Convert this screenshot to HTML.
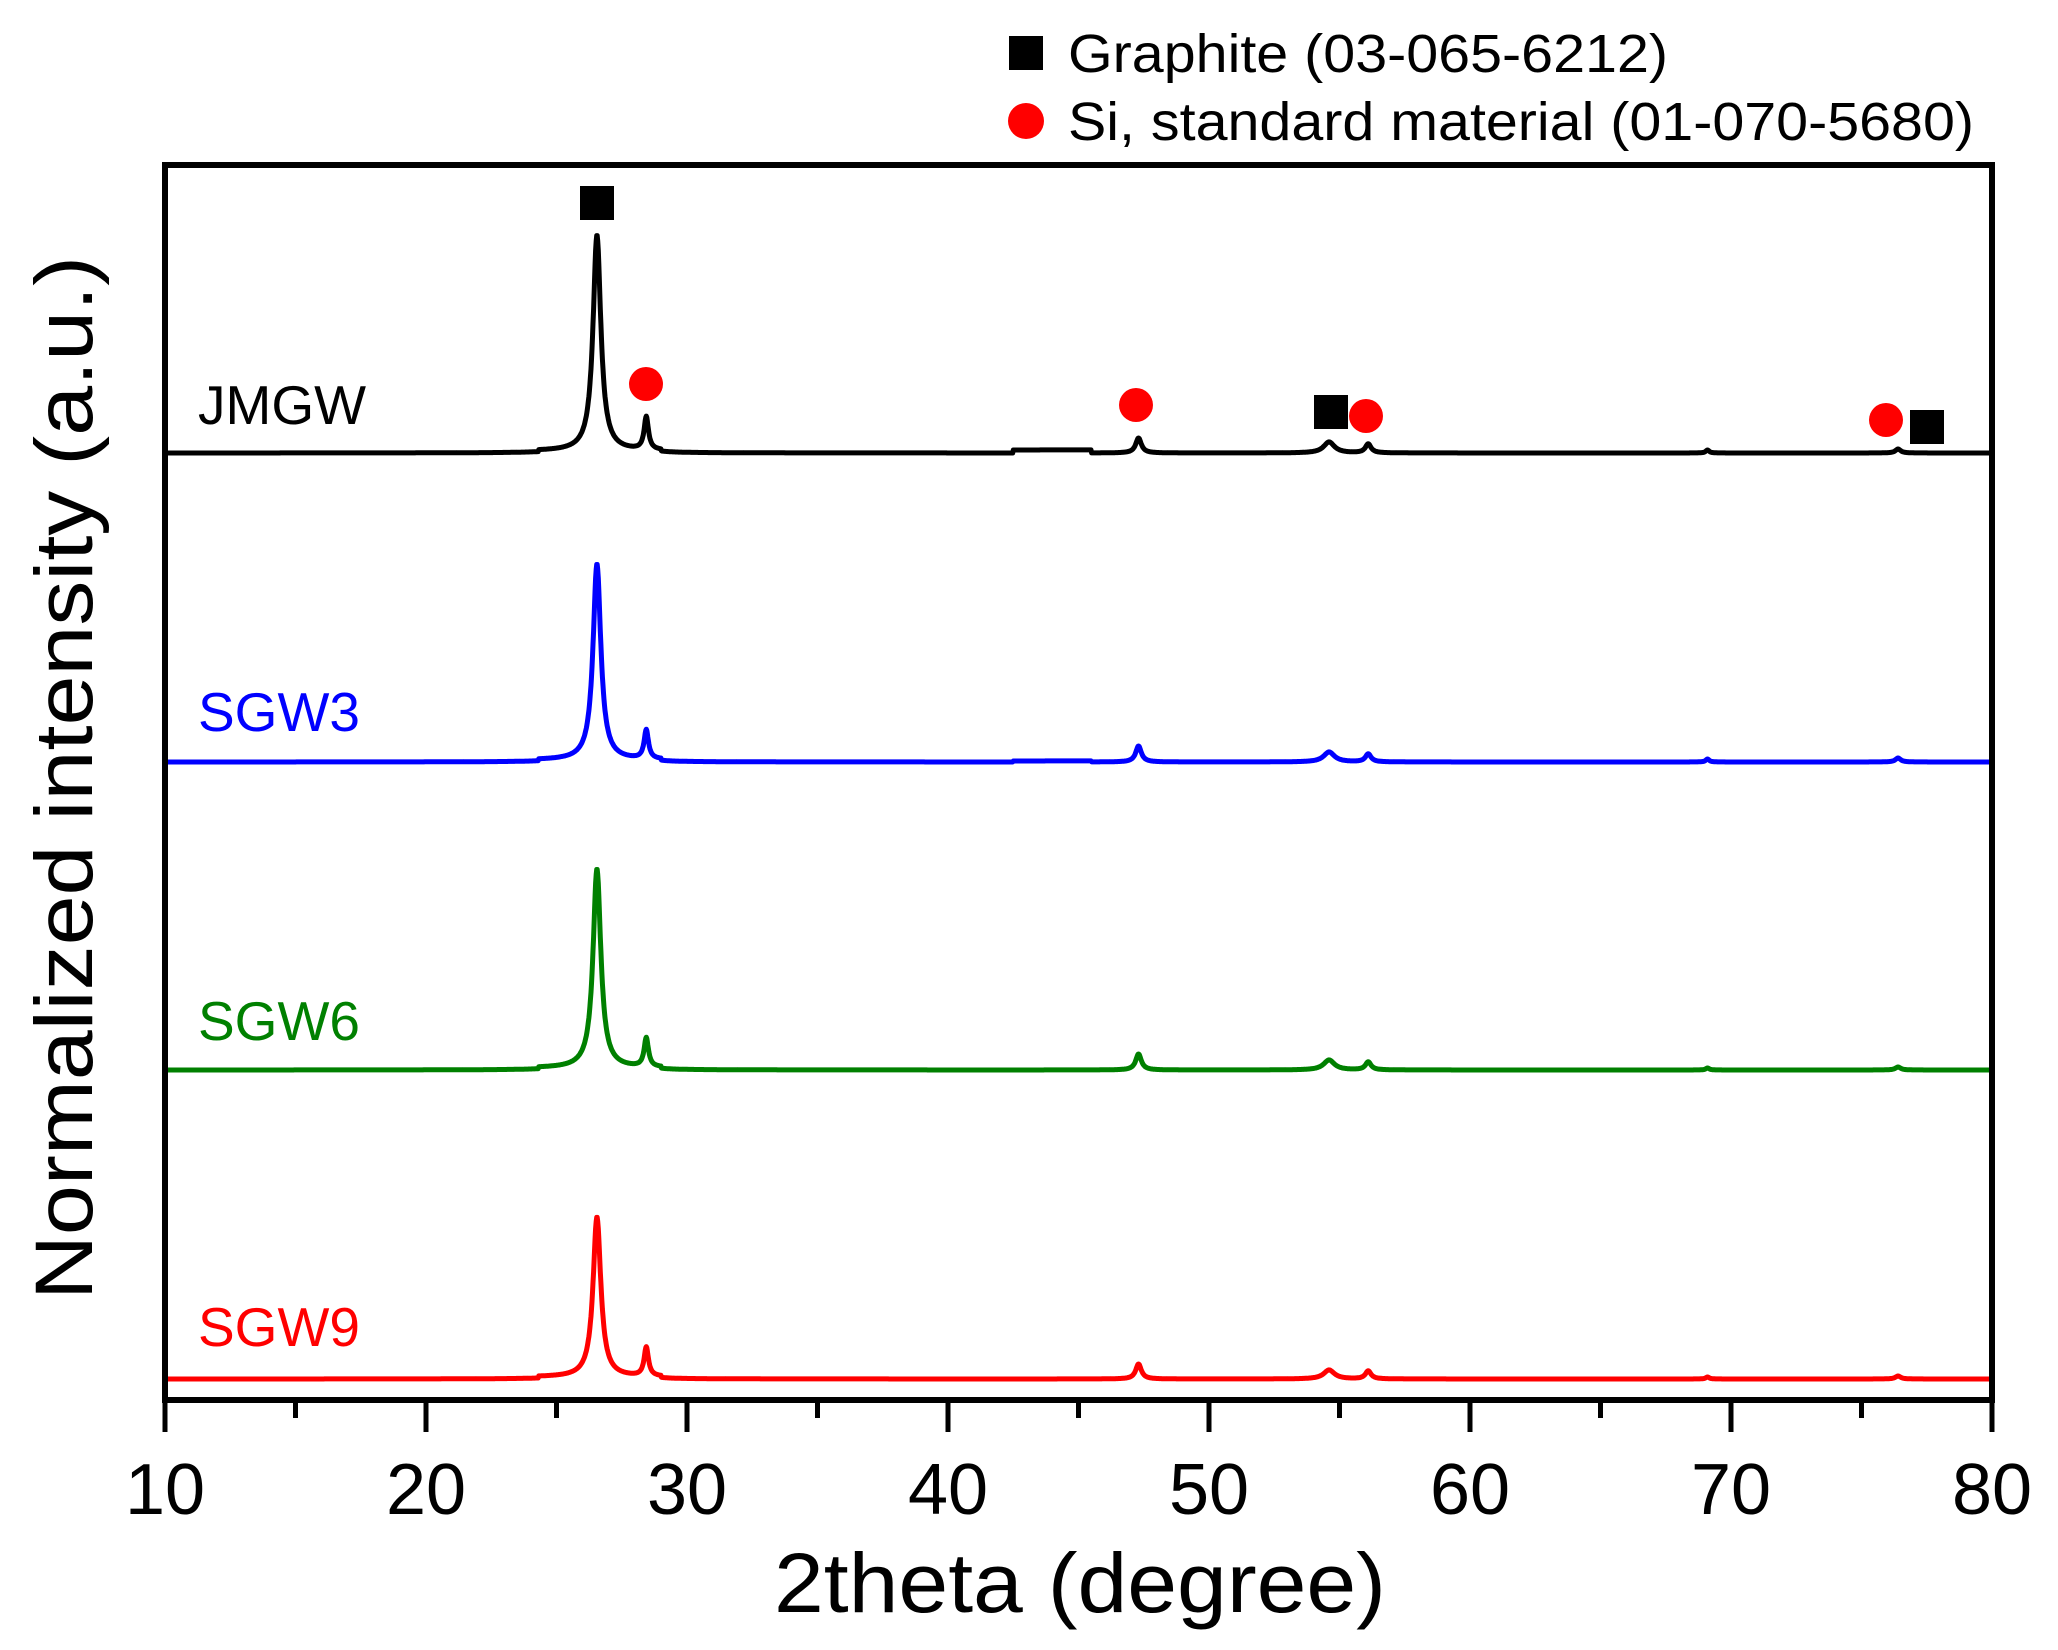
<!DOCTYPE html>
<html><head><meta charset="utf-8"><style>
html,body{margin:0;padding:0;background:#fff;}
svg{display:block;}
text{font-family:"Liberation Sans",Arial,sans-serif;}
</style></head><body>
<svg id="s" width="2058" height="1650" viewBox="0 0 2058 1650" xmlns="http://www.w3.org/2000/svg">
<rect width="2058" height="1650" fill="#fff"/>
<g id="traces"></g>
<rect x="165" y="165" width="1827" height="1235" fill="none" stroke="#000" stroke-width="6"/>
<g id="ticks" stroke="#000" stroke-width="5"></g>
<g font-size="72" text-anchor="middle" fill="#000">
<text x="165" y="1514">10</text><text x="426" y="1514">20</text><text x="687" y="1514">30</text>
<text x="948" y="1514">40</text><text x="1209" y="1514">50</text><text x="1470" y="1514">60</text>
<text x="1731" y="1514">70</text><text x="1992" y="1514">80</text>
</g>
<text x="1080" y="1612" font-size="84" text-anchor="middle" textLength="612" lengthAdjust="spacingAndGlyphs">2theta (degree)</text>
<text transform="translate(92,778) rotate(-90)" font-size="82" text-anchor="middle" textLength="1044" lengthAdjust="spacingAndGlyphs">Normalized intensity (a.u.)</text>
<g font-size="55">
<text x="198" y="424" fill="#000">JMGW</text>
<text x="198" y="731" fill="#0000ff">SGW3</text>
<text x="198" y="1040" fill="#008000">SGW6</text>
<text x="198" y="1346" fill="#ff0000">SGW9</text>
</g>
<rect x="1009" y="36" width="34" height="34" fill="#000"/>
<circle cx="1026" cy="121" r="18" fill="#ff0000"/>
<text x="1068" y="72" font-size="54" textLength="600" lengthAdjust="spacingAndGlyphs">Graphite (03-065-6212)</text>
<text x="1068" y="140" font-size="54" textLength="906" lengthAdjust="spacingAndGlyphs">Si, standard material (01-070-5680)</text>
<g fill="#000">
<rect x="580" y="186" width="34" height="34"/>
<rect x="1314" y="395" width="34" height="34"/>
<rect x="1925" y="410" width="34" height="34" transform="translate(-15,0)"/>
</g>
<g fill="#ff0000">
<circle cx="646" cy="384" r="17"/>
<circle cx="1136" cy="405" r="17"/>
<circle cx="1366" cy="416" r="17"/>
<circle cx="1886" cy="420" r="17"/>
</g>
</svg>
<script>
(function(){
var NS="http://www.w3.org/2000/svg";
function X(t){return 165+(t-10)*26.1;}
var ticks=document.getElementById("ticks");
for(var t=10;t<=80;t+=5){
  var l=document.createElementNS(NS,"line");
  var x=X(t);l.setAttribute("x1",x);l.setAttribute("x2",x);
  l.setAttribute("y1",1400);l.setAttribute("y2",t%10==0?1432:1418);
  ticks.appendChild(l);
}
var peaks=[[26.55,0.18],[28.44,0.1],[47.3,0.13],[54.6,0.25],[56.1,0.13],[69.1,0.08],[76.4,0.12]];
var series=[
 {c:"#000",b:453,h:[216,33,15,11,9,3,4],bump:3},
 {c:"#0000ff",b:762,h:[196,29,16,10,8,3,4],bump:1},
 {c:"#008000",b:1070,h:[199,29,16,10,8,2,3],bump:0},
 {c:"#ff0000",b:1379,h:[160,29,15,9,8,2,3],bump:0}
];
var g=document.getElementById("traces");
series.forEach(function(s){
  var d="";
  for(var t=10;t<=80;t+=0.02){
    var y=0;
    for(var i=0;i<peaks.length;i++){var dx=(t-peaks[i][0])/peaks[i][1];y+=s.h[i]/(1+dx*dx);}
    if(t>24.3&&t<29)y+=2;
    if(s.bump&&t>42.5&&t<45.5)y+=s.bump;
    d+=(d?"L":"M")+X(t).toFixed(1)+","+(s.b-y).toFixed(1);
  }
  var p=document.createElementNS(NS,"path");
  p.setAttribute("d",d);p.setAttribute("fill","none");p.setAttribute("stroke",s.c);
  p.setAttribute("stroke-width","5");p.setAttribute("stroke-linejoin","round");
  g.appendChild(p);
});
})();
</script>
</body></html>
